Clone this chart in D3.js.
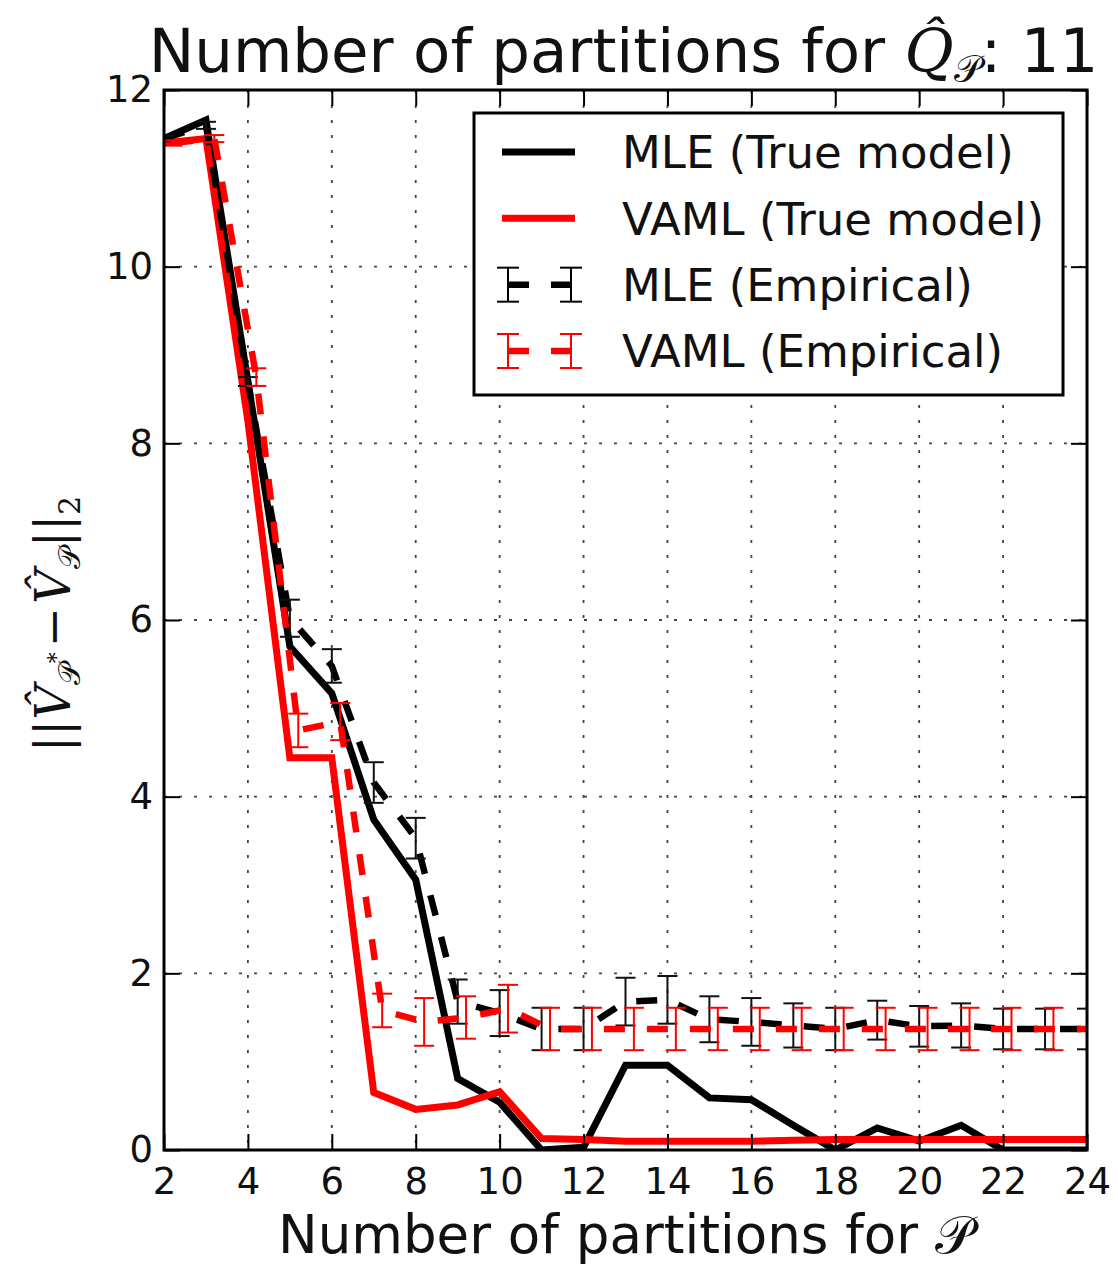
<!DOCTYPE html>
<html>
<head>
<meta charset="utf-8">
<script src="https://cdn.jsdelivr.net/npm/d3@7"></script>
<style>
  html, body { margin: 0; padding: 0; background: #fff; }
  svg { display: block; }
</style>
</head>
<body>
<div id="chart"></div>
<script>
// number of partitions for P (x values)
const partitions = [2, 3, 4, 5, 6, 7, 8, 9, 10, 11, 12, 13, 14, 15, 16, 17, 18, 19, 20, 21, 22, 23, 24];

// true model curves
const mleTrue  = [11.45, 11.66, 8.7, 5.7, 5.17, 3.74, 3.06, 0.81, 0.54, 0.0, 0.03, 0.96, 0.96, 0.59, 0.57, 0.28, 0.0, 0.25, 0.1, 0.28, 0.0, 0.0, 0.0];
const vamlTrue = [11.4, 11.45, 8.25, 4.44, 4.44, 0.65, 0.46, 0.51, 0.66, 0.13, 0.12, 0.1, 0.1, 0.1, 0.1, 0.11, 0.12, 0.12, 0.12, 0.12, 0.12, 0.12, 0.12];

// empirical curves (mean and error)
const mleEmp     = [11.45, 11.6, 8.7, 6.02, 5.48, 4.16, 3.53, 1.68, 1.55, 1.37, 1.37, 1.68, 1.7, 1.48, 1.45, 1.41, 1.37, 1.47, 1.4, 1.41, 1.37, 1.37, 1.37];
const mleEmpErr  = [0.03, 0.04, 0.05, 0.21, 0.19, 0.23, 0.23, 0.25, 0.26, 0.24, 0.24, 0.27, 0.27, 0.26, 0.27, 0.25, 0.24, 0.22, 0.23, 0.25, 0.23, 0.23, 0.23];
const vamlEmp    = [11.4, 11.45, 8.75, 4.75, 4.85, 1.58, 1.45, 1.5, 1.6, 1.37, 1.37, 1.37, 1.37, 1.37, 1.37, 1.37, 1.37, 1.37, 1.37, 1.37, 1.37, 1.37, 1.37];
const vamlEmpErr = [0.03, 0.04, 0.1, 0.19, 0.21, 0.19, 0.27, 0.24, 0.27, 0.24, 0.24, 0.24, 0.24, 0.24, 0.24, 0.24, 0.24, 0.24, 0.24, 0.24, 0.24, 0.24, 0.24];
const vamlShift = 0.2; // VAML empirical is drawn slightly to the right

const xTicks = [2, 4, 6, 8, 10, 12, 14, 16, 18, 20, 22, 24];
const yTicks = [0, 2, 4, 6, 8, 10, 12];

const legendItems = [
  { label: "MLE (True model)", color: "#000", kind: "solid" },
  { label: "VAML (True model)", color: "#ff0000", kind: "solid" },
  { label: "MLE (Empirical)", color: "#000", kind: "err" },
  { label: "VAML (Empirical)", color: "#ff0000", kind: "err" }
];

const W = 1118, H = 1274;
const margin = { top: 90, right: 31, bottom: 124, left: 164 };
const iw = W - margin.left - margin.right;
const ih = H - margin.top - margin.bottom;
const SCRIPT_P = "\u{1D4AB}";
const sans = "'DejaVu Sans', sans-serif";
const serif = "'DejaVu Serif', 'Liberation Serif', serif";

const svg = d3.select("#chart").append("svg")
  .attr("width", W)
  .attr("height", H);

const x = d3.scaleLinear().domain([2, 24]).range([0, iw]);
const y = d3.scaleLinear().domain([0, 12]).range([ih, 0]);

const g = svg.append("g").attr("transform", `translate(${margin.left},${margin.top})`);

g.append("clipPath").attr("id", "plotclip")
  .append("rect").attr("width", iw).attr("height", ih);

// dotted grid
const grid = g.append("g")
  .attr("stroke", "#444")
  .attr("stroke-width", 1.8)
  .attr("stroke-dasharray", "3,12");
grid.selectAll("line.vx")
  .data(xTicks.slice(1, -1))
  .join("line")
  .attr("x1", d => x(d)).attr("x2", d => x(d))
  .attr("y1", 0).attr("y2", ih);
grid.selectAll("line.hy")
  .data(yTicks.slice(1, -1))
  .join("line")
  .attr("y1", d => y(d)).attr("y2", d => y(d))
  .attr("x1", 0).attr("x2", iw);

const plot = g.append("g").attr("clip-path", "url(#plotclip)");

const line = d3.line().x(d => x(d[0])).y(d => y(d[1]));

function drawLine(values, color, shift, dashed) {
  const pts = partitions.map((p, i) => [p + shift, values[i]]);
  const path = plot.append("path")
    .datum(pts)
    .attr("fill", "none")
    .attr("stroke", color)
    .attr("stroke-width", dashed ? 6.5 : 7)
    .attr("stroke-linejoin", "miter")
    .attr("d", line);
  if (dashed) path.attr("stroke-dasharray", "21,22");
}

function drawErrors(values, errs, color, shift) {
  const eb = plot.append("g")
    .attr("stroke", color)
    .attr("stroke-width", 2);
  const rows = partitions.map((p, i) => ({ px: p + shift, v: values[i], e: errs[i] }));
  eb.selectAll("line.bar")
    .data(rows)
    .join("line")
    .attr("x1", d => x(d.px)).attr("x2", d => x(d.px))
    .attr("y1", d => y(d.v + d.e)).attr("y2", d => y(d.v - d.e));
  eb.selectAll("line.capTop")
    .data(rows)
    .join("line")
    .attr("x1", d => x(d.px) - 10).attr("x2", d => x(d.px) + 10)
    .attr("y1", d => y(d.v + d.e)).attr("y2", d => y(d.v + d.e));
  eb.selectAll("line.capBot")
    .data(rows)
    .join("line")
    .attr("x1", d => x(d.px) - 10).attr("x2", d => x(d.px) + 10)
    .attr("y1", d => y(d.v - d.e)).attr("y2", d => y(d.v - d.e));
}

drawLine(mleTrue, "#000", 0, false);
drawLine(vamlTrue, "#ff0000", 0, false);
drawLine(mleEmp, "#000", 0, true);
drawErrors(mleEmp, mleEmpErr, "#111", 0);
drawLine(vamlEmp, "#ff0000", vamlShift, true);
drawErrors(vamlEmp, vamlEmpErr, "#ff0000", vamlShift);

// axes, ticks pointing inward on all four sides
const tickLen = 16;
g.append("g").attr("transform", `translate(0,${ih})`)
  .call(d3.axisBottom(x).tickValues(xTicks).tickFormat(d3.format("d")).tickSize(-tickLen).tickSizeOuter(0).tickPadding(18));
g.append("g")
  .call(d3.axisLeft(y).tickValues(yTicks).tickFormat(d3.format("d")).tickSize(-tickLen).tickSizeOuter(0).tickPadding(11));
g.append("g")
  .call(d3.axisTop(x).tickValues(xTicks).tickFormat("").tickSize(-tickLen).tickSizeOuter(0));
g.append("g").attr("transform", `translate(${iw},0)`)
  .call(d3.axisRight(y).tickValues(yTicks).tickFormat("").tickSize(-tickLen).tickSizeOuter(0));

g.selectAll(".domain").remove();
g.selectAll(".tick line").attr("stroke", "#000").attr("stroke-width", 2);
g.selectAll(".tick text")
  .attr("fill", "#111")
  .style("font-family", sans)
  .style("font-size", "37px");

// frame
g.append("rect")
  .attr("width", iw).attr("height", ih)
  .attr("fill", "none")
  .attr("stroke", "#000")
  .attr("stroke-width", 3);

// title
const title = svg.append("text")
  .attr("x", margin.left + iw / 2 - 2)
  .attr("y", 72)
  .attr("text-anchor", "middle")
  .style("font-family", sans)
  .style("font-size", "61px")
  .attr("fill", "#111");
title.append("tspan").text("Number of partitions for ");
title.append("tspan").style("font-family", serif).style("font-style", "italic").style("font-size", "60px").text("Q\u0302");
title.append("tspan").style("font-size", "38px").attr("dy", 10).text(SCRIPT_P);
title.append("tspan").attr("dy", -10).text(": 11");

// x label
const xl = svg.append("text")
  .attr("x", margin.left + iw / 2)
  .attr("y", 1253)
  .attr("text-anchor", "middle")
  .style("font-family", sans)
  .style("font-size", "53px")
  .attr("fill", "#111");
xl.append("tspan").text("Number of partitions for ");
xl.append("tspan").text(SCRIPT_P);

// y label (math)
const yl = svg.append("text")
  .attr("transform", `translate(70,${margin.top + ih / 2 + 4}) rotate(-90)`)
  .attr("text-anchor", "middle")
  .style("font-family", serif)
  .style("font-size", "48px")
  .attr("fill", "#111");
yl.append("tspan").text("||");
yl.append("tspan").style("font-style", "italic").text("V\u0302");
yl.append("tspan").style("font-size", "30px").attr("dy", 10).text(SCRIPT_P);
yl.append("tspan").style("font-size", "22px").attr("dy", -16).text("*");
yl.append("tspan").attr("dy", 6).attr("dx", 5).text("\u2212");
yl.append("tspan").style("font-style", "italic").attr("dx", 3).text("V\u0302");
yl.append("tspan").style("font-size", "30px").attr("dy", 10).text(SCRIPT_P);
yl.append("tspan").attr("dy", -10).text("||");
yl.append("tspan").style("font-size", "30px").attr("dy", 10).text("2");

// legend
const lg = svg.append("g");
lg.append("rect")
  .attr("x", 474).attr("y", 113)
  .attr("width", 589).attr("height", 282)
  .attr("fill", "#fff")
  .attr("stroke", "#000")
  .attr("stroke-width", 3);

const rowY = d3.scalePoint().domain(legendItems.map(d => d.label)).range([152, 351]);
const sx0 = 508, sx1 = 571;

legendItems.forEach(item => {
  const cy = rowY(item.label);
  if (item.kind === "solid") {
    lg.append("line")
      .attr("x1", 502).attr("x2", 575)
      .attr("y1", cy).attr("y2", cy)
      .attr("stroke", item.color).attr("stroke-width", 7);
  } else {
    lg.append("line")
      .attr("x1", sx0).attr("x2", sx1)
      .attr("y1", cy).attr("y2", cy)
      .attr("stroke", item.color).attr("stroke-width", 6.5)
      .attr("stroke-dasharray", "21,22");
    [sx0, sx1].forEach(bx => {
      lg.append("line").attr("x1", bx).attr("x2", bx).attr("y1", cy - 17).attr("y2", cy + 17)
        .attr("stroke", item.color).attr("stroke-width", 2);
      [cy - 17, cy + 17].forEach(cyy => {
        lg.append("line").attr("x1", bx - 11).attr("x2", bx + 11).attr("y1", cyy).attr("y2", cyy)
          .attr("stroke", item.color).attr("stroke-width", 2);
      });
    });
  }
  lg.append("text")
    .attr("x", 622).attr("y", cy)
    .attr("dy", "0.36em")
    .style("font-family", sans)
    .style("font-size", "45px")
    .attr("fill", "#111")
    .text(item.label);
});
</script>
</body>
</html>
